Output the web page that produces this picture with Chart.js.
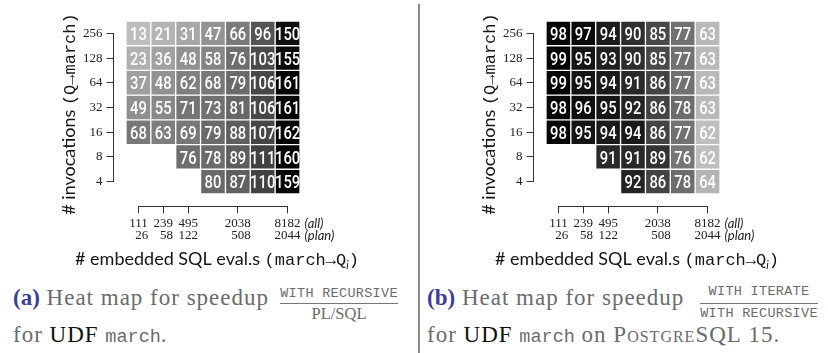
<!DOCTYPE html>
<html>
<head>
<meta charset="utf-8">
<script src="https://cdn.jsdelivr.net/npm/chart.js@4.4.1/dist/chart.umd.min.js"></script>
<style>
  body { margin: 0; width: 828px; height: 353px; overflow: hidden; background: #fff; position: relative; }
  canvas { position: absolute; top: 0; }
  .sep { position: absolute; left: 418px; top: 4px; width: 2px; height: 349px; background: #8a8a8a; }
  .cap { position: absolute; white-space: nowrap; font-family: 'Liberation Serif', serif; font-size: 23px;
         line-height: 30px; color: #6b6b6b; letter-spacing: 1px; }
  .cap span { line-height: 10px; }
  .lab { color: #3a3d9a; font-weight: bold; letter-spacing: 0; }
  .udf { color: #111; }
  .tt { font-family: 'Liberation Mono', monospace; font-size: 18.5px; letter-spacing: 0; }
  .sc { font-variant: small-caps; }
  .num, .den { position: absolute; white-space: nowrap; text-align: center; color: #6b6b6b; }
  .mono { font-family: 'Liberation Mono', monospace; font-size: 13.5px; line-height: 14px; letter-spacing: 0.3px; }
  .serif { font-family: 'Liberation Serif', serif; font-size: 16.5px; line-height: 18px; }
  .rule { position: absolute; height: 0; border-top: 1px solid #777; }
</style>
</head>
<body>
<canvas id="heatA" width="414" height="275" style="left:0"></canvas>
<canvas id="heatB" width="408" height="275" style="left:420px"></canvas>
<div class="sep"></div>

<div class="cap" style="left:13px; top:283.2px"><span class="lab">(a)</span> Heat map for speedup</div>
<div class="num mono" style="left:280px; width:118px; top:287.4px">WITH RECURSIVE</div>
<div class="rule" style="left:280px; width:118px; top:303px"></div>
<div class="den serif" style="left:280px; width:118px; top:305.4px">PL/SQL</div>
<div class="cap" style="left:13px; top:320.2px">for <span class="udf">UDF</span> <span class="tt">march</span>.</div>

<div class="cap" style="left:427px; top:283.2px"><span class="lab">(b)</span> Heat map for speedup</div>
<div class="num mono" style="left:700px; width:118px; top:285.4px">WITH ITERATE</div>
<div class="rule" style="left:700px; width:118px; top:303px"></div>
<div class="den mono" style="left:700px; width:118px; top:307.4px">WITH RECURSIVE</div>
<div class="cap" style="left:427px; top:320.2px">for <span class="udf">UDF</span> <span class="tt">march</span> on <span class="sc">PostgreSQL</span> 15.</div>

<script>
// ---- data -------------------------------------------------------------
// Rows from top to bottom: number of invocations of the query.
const invocations = [256, 128, 64, 32, 16, 8, 4];
// Columns from left to right: embedded SQL evaluations (all / plan only).
// Only every labelled column carries a tick.
const evalsAll  = [111, 239, 495, null, 2038, null, 8182];
const evalsPlan = [26,  58,  122, null, 508,  null, 2044];

// Speedup WITH RECURSIVE / PL/SQL (percent), rows as in `invocations`.
const speedupRecursive = [
  [13, 21, 31, 47, 66, 96, 150],
  [23, 36, 48, 58, 76, 103, 155],
  [37, 48, 62, 68, 79, 106, 161],
  [49, 55, 71, 73, 81, 106, 161],
  [68, 63, 69, 79, 88, 107, 162],
  [null, null, 76, 78, 89, 111, 160],
  [null, null, null, 80, 87, 110, 159]
];

// Speedup WITH ITERATE / WITH RECURSIVE on PostgreSQL 15 (percent).
const speedupIterate = [
  [98, 97, 94, 90, 85, 77, 63],
  [99, 95, 93, 90, 85, 77, 63],
  [99, 95, 94, 91, 86, 77, 63],
  [98, 96, 95, 92, 86, 78, 63],
  [98, 95, 94, 94, 86, 77, 62],
  [null, null, 91, 91, 89, 76, 62],
  [null, null, null, 92, 86, 78, 64]
];

// ---- styling ----------------------------------------------------------
const AREA = { left: 138.4, right: 287.6, top: 33.4, bottom: 181.6 }; // tick-centre box
const X_BOX_HEIGHT = 60;
const AXIS_GAP_COLS = 1;   // y axis sits one column left of the first cell centre
const AXIS_GAP_ROWS = 1;   // x axis sits one row below the last cell centre
const LIGHTEST = 190;      // grey level of the smallest value
const AXIS_COLOR = '#333';
const TEXT_COLOR = '#222';
const SERIF = "'Liberation Serif', serif";
const SANS = "Lato, 'Open Sans', sans-serif";
const MONO = "'Liberation Mono', 'DejaVu Sans Mono', monospace";
const FIGURE_SPACE = '\u2007';

const nCols = evalsAll.length;
const nRows = invocations.length;

function buildDatasets(matrix) {
  const values = matrix.flat().filter(v => v !== null);
  const lo = Math.min(...values), hi = Math.max(...values);
  const shade = v => {
    const g = Math.round(LIGHTEST * (hi - v) / (hi - lo));
    return `rgb(${g},${g},${g})`;
  };
  return matrix.map((row, r) => {
    const level = nRows - 1 - r;
    const data = [];
    row.forEach((v, c) => {
      if (v !== null) data.push({ x: c, y: [level - 0.5, level + 0.5], v });
    });
    return {
      label: invocations[r] + ' invocations',
      data,
      backgroundColor: data.map(d => shade(d.v)),
      borderColor: '#ffffff',
      borderWidth: 1,
      borderSkipped: false,
      grouped: false,
      barPercentage: 1,
      categoryPercentage: 1,
      clip: false
    };
  });
}

// Moves both axes away from the cell block, keeping their brackets
// between the first and last tick.
const offsetAxes = {
  id: 'offsetAxes',
  afterLayout(chart) {
    const { x, y } = chart.scales;
    const dx = x.getPixelForValue(0) - x.getPixelForValue(-AXIS_GAP_COLS);
    y.left -= dx; y.right -= dx;
    const dy = y.getPixelForValue(-AXIS_GAP_ROWS) - y.getPixelForValue(0);
    x.top += dy; x.bottom += dy;
  }
};

// White value labels centred in each cell, in a condensed face.
const cellLabels = {
  id: 'cellLabels',
  afterDatasetsDraw(chart) {
    const ctx = chart.ctx;
    chart.data.datasets.forEach((ds, i) => {
      chart.getDatasetMeta(i).data.forEach((bar, j) => {
        const cx = bar.x, cy = (bar.y + bar.base) / 2;
        ctx.save();
        ctx.translate(cx, cy);
        ctx.scale(0.8, 1);
        ctx.font = "500 18.5px Roboto, 'Noto Sans', sans-serif";
        ctx.fillStyle = '#ffffff';
        ctx.textAlign = 'center';
        ctx.textBaseline = 'alphabetic';
        ctx.fillText(String(ds.data[j].v), 0, 6.6);
        ctx.restore();
      });
    });
  }
};

function drawRuns(ctx, runs, cx, cy, angle) {
  ctx.save();
  ctx.translate(cx, cy);
  ctx.rotate(angle);
  ctx.textAlign = 'left';
  ctx.textBaseline = 'alphabetic';
  let total = 0;
  runs.forEach(r => { ctx.font = r.font; r.w = ctx.measureText(r.text).width; total += r.w; });
  let x = -total / 2;
  runs.forEach(r => {
    ctx.font = r.font;
    ctx.fillStyle = '#151515';
    ctx.fillText(r.text, x, r.dy || 0);
    x += r.w;
  });
  ctx.restore();
}

// Axis titles with mixed faces and the (all)/(plan) row captions.
const axisTitles = {
  id: 'axisTitles',
  afterDraw(chart) {
    const ctx = chart.ctx;
    const { x } = chart.scales;
    drawRuns(ctx, [
      { text: '# invocations ', font: `18px ${SANS}` },
      { text: '(Q\u2192march)', font: `17px ${MONO}` }
    ], 75, 114, -Math.PI / 2);

    drawRuns(ctx, [
      { text: '# embedded SQL eval.s ', font: `18px ${SANS}` },
      { text: '(march\u2192Q', font: `17px ${MONO}` },
      { text: 'i', font: `italic 11px ${SANS}`, dy: 4 },
      { text: ')', font: `17px ${MONO}` }
    ], 217, 265, 0);

    const tickFont = x.options.ticks.font;
    const lh = tickFont.size * tickFont.lineHeight;
    const y0 = x.top + x.options.grid.tickLength + x.options.ticks.padding;
    ctx.save();
    ctx.font = `${tickFont.size}px ${SERIF}`;
    const lastW = ctx.measureText(String(evalsAll[nCols - 1])).width;
    const xs = x.getPixelForValue(nCols - 1) + lastW / 2 + 4;
    ctx.font = `italic 13px ${SANS}`;
    ctx.fillStyle = TEXT_COLOR;
    ctx.textBaseline = 'middle';
    ctx.textAlign = 'left';
    ctx.fillText('(all)', xs, y0 + lh * 0.5);
    ctx.fillText('(plan)', xs, y0 + lh * 1.5);
    ctx.restore();
  }
};

function makeHeatmap(canvasId, matrix) {
  const canvas = document.getElementById(canvasId);
  const W = canvas.width, H = canvas.height;
  return new Chart(canvas, {
    type: 'bar',
    data: { datasets: buildDatasets(matrix) },
    options: {
      responsive: false,
      animation: false,
      events: [],
      layout: { padding: { left: 0, top: AREA.top, right: W - AREA.right, bottom: H - AREA.bottom - X_BOX_HEIGHT } },
      plugins: { legend: { display: false }, tooltip: { enabled: false } },
      scales: {
        x: {
          type: 'linear', min: 0, max: nCols - 1, offset: false,
          grid: { offset: false, drawOnChartArea: false, tickLength: 7, color: AXIS_COLOR, lineWidth: 1 },
          border: { color: AXIS_COLOR, width: 1 },
          ticks: {
            stepSize: 1, autoSkip: false, maxRotation: 0, minRotation: 0, padding: 4,
            color: TEXT_COLOR, font: { family: SERIF, size: 13, lineHeight: 0.95 },
            callback: v => {
              const a = String(evalsAll[v]), p = String(evalsPlan[v]);
              return [a, FIGURE_SPACE.repeat(Math.max(0, a.length - p.length)) + p];
            }
          },
          afterBuildTicks: s => { s.ticks = s.ticks.filter(t => evalsAll[t.value] != null); },
          afterFit: s => { s.height = X_BOX_HEIGHT; }
        },
        y: {
          type: 'linear', min: 0, max: nRows - 1,
          grid: { drawOnChartArea: false, tickLength: 7, color: AXIS_COLOR, lineWidth: 1 },
          border: { color: AXIS_COLOR, width: 1 },
          ticks: {
            stepSize: 1, padding: 4, color: TEXT_COLOR, font: { family: SERIF, size: 13 },
            callback: v => String(invocations[nRows - 1 - v])
          },
          afterFit: s => { s.width = AREA.left; }
        }
      }
    },
    plugins: [offsetAxes, cellLabels, axisTitles]
  });
}

makeHeatmap('heatA', speedupRecursive);
makeHeatmap('heatB', speedupIterate);
</script>
</body>
</html>
